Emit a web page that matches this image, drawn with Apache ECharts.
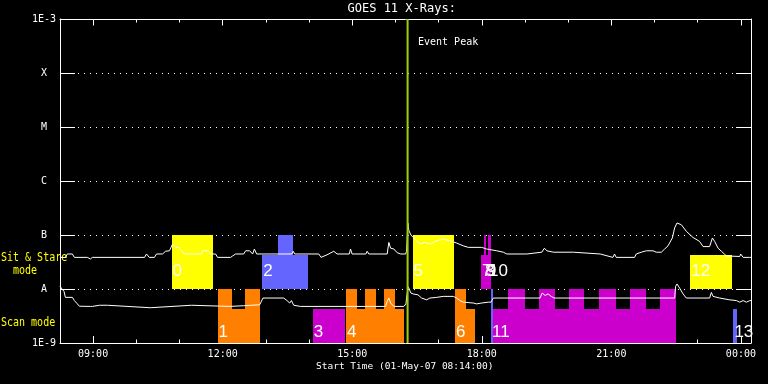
<!DOCTYPE html>
<html><head><meta charset="utf-8">
<script src="https://cdn.jsdelivr.net/npm/echarts@6/dist/echarts.min.js"></script>
<style>html,body{margin:0;padding:0;background:#000;}#c{width:768px;height:384px;}</style>
</head><body><div id="c"></div>
<script>
// ---- data ----
const titleText = 'GOES 11 X-Rays:';
const xAxisTitle = 'Start Time (01-May-07 08:14:00)';
const timeMin = 8 + 14/60, timeMax = 24 + 14/60;          // hours (08:14 -> 00:14)
const hourTicks = [9,10,11,12,13,14,15,16,17,18,19,20,21,22,23,24];
const labelHours = [9,12,15,18,21,24];
const hourLabels = ['09:00','12:00','15:00','18:00','21:00','00:00'];
const yTickLabels = ['1E-9','A','B','C','M','X','1E-3'];   // 1e-9 .. 1e-3
const eventPeakTime = 16.282;
const eventPeakText = 'Event Peak';

// upper channel (1-8 A) flux, [hour, W/m^2]
const longFlux = [
 [8.232,3.85e-8],[8.358,3.85e-8],[8.404,4.45e-8],[8.520,4.45e-8],[8.566,3.85e-8],[8.868,3.85e-8],[8.937,3.6e-8],[8.984,3.85e-8],
 [10.190,3.85e-8],[10.236,4.45e-8],[10.300,3.85e-8],[10.420,3.85e-8],[10.468,4.45e-8],[10.607,4.45e-8],[10.677,5.0e-8],[10.769,5.1e-8],
 [10.839,6.8e-8],[10.909,5.9e-8],[10.978,5.9e-8],[11.048,5.1e-8],[11.117,4.45e-8],[11.512,4.45e-8],[11.535,5.1e-8],[11.674,5.1e-8],
 [11.720,4.45e-8],[11.836,4.45e-8],[11.883,3.85e-8],[12.184,3.85e-8],[12.231,4.1e-8],[12.300,4.45e-8],[12.486,4.45e-8],[12.532,5.1e-8],
 [12.625,5.1e-8],[12.694,4.45e-8],[12.734,5.5e-8],[12.787,4.45e-8],[13.599,4.45e-8],[13.634,5.0e-8],[13.668,4.45e-8],[14.225,4.45e-8],
 [14.278,3.85e-8],[14.417,4.3e-8],[14.573,5.0e-8],[14.649,4.45e-8],[14.932,4.45e-8],[14.960,5.5e-8],[14.997,4.45e-8],[15.315,4.45e-8],
 [15.345,5.0e-8],[15.384,4.45e-8],[15.809,4.45e-8],[15.848,7.3e-8],[15.888,5.7e-8],[15.964,5.5e-8],[16.041,4.7e-8],[16.120,4.45e-8],
 [16.236,4.45e-8],[16.259,5.0e-8],[16.289,1.67e-7],[16.312,1.2e-7],[16.359,1.0e-7],[16.412,9.0e-8],[16.567,6.8e-8],[16.683,7.3e-8],
 [16.799,6.8e-8],[16.955,7.8e-8],[17.108,8.4e-8],[17.263,7.8e-8],[17.418,7.1e-8],[17.571,6.3e-8],[17.687,5.9e-8],[17.998,5.9e-8],
 [18.114,5.5e-8],[18.346,5.1e-8],[18.499,4.8e-8],[18.578,4.45e-8],[19.042,4.45e-8],[19.079,4.8e-8],[19.390,4.8e-8],[19.450,5.7e-8],
 [19.506,5.1e-8],[19.659,4.8e-8],[20.123,4.8e-8],[20.162,4.45e-8],[20.742,4.45e-8],[20.765,4.1e-8],[21.036,3.85e-8],[21.073,4.45e-8],
 [21.113,3.85e-8],[21.537,3.85e-8],[21.577,4.45e-8],[21.693,4.8e-8],[21.809,5.1e-8],[21.964,5.1e-8],[22.041,4.8e-8],[22.157,4.8e-8],
 [22.233,5.5e-8],[22.312,6.3e-8],[22.412,8.8e-8],[22.465,1.35e-7],[22.520,1.67e-7],[22.620,1.55e-7],[22.736,1.17e-7],[22.891,9.0e-8],
 [23.044,7.6e-8],[23.123,6.1e-8],[23.276,6.1e-8],[23.339,8.8e-8],[23.392,7.6e-8],[23.471,5.7e-8],[23.548,5.0e-8],[23.664,4.1e-8],
 [23.972,4.0e-8],[23.995,4.45e-8],[24.051,3.85e-8],[24.204,3.85e-8],[24.234,3.85e-8]
];

// lower channel (0.5-4 A) flux, [hour, W/m^2]
const shortFlux = [
 [8.232,1.12e-8],[8.265,1.06e-8],[8.327,9.0e-9],[8.358,7.0e-9],[8.520,7.0e-9],[8.566,6.1e-9],[8.636,5.3e-9],[8.682,4.8e-9],
 [8.937,4.76e-9],[8.961,5.0e-9],[8.984,4.76e-9],[9.146,5.0e-9],[9.169,4.76e-9],[9.332,5.0e-9],[9.355,4.76e-9],[10.322,4.5e-9],
 [10.352,4.76e-9],[11.280,5.0e-9],[11.303,4.76e-9],[12.161,4.76e-9],[12.486,4.9e-9],[12.857,5.1e-9],[12.933,6.8e-9],[13.413,6.8e-9],
 [13.490,6.1e-9],[13.552,5.5e-9],[13.592,6.1e-9],[13.645,5.0e-9],[13.801,4.76e-9],[15.772,4.76e-9],[15.809,5.9e-9],[15.848,6.8e-9],
 [15.888,5.5e-9],[15.964,4.76e-9],[16.196,4.76e-9],[16.243,5.3e-9],[16.273,8.4e-9],[16.296,1.1e-8],[16.319,1.0e-8],[16.359,8.4e-9],
 [16.412,8.1e-9],[16.521,7.8e-9],[16.607,6.8e-9],[16.723,6.3e-9],[16.799,6.8e-9],[16.955,7.0e-9],[17.108,7.3e-9],[17.340,7.3e-9],
 [17.418,6.8e-9],[17.495,6.1e-9],[17.571,5.7e-9],[17.803,5.5e-9],[17.880,5.3e-9],[17.996,5.5e-9],[18.149,5.7e-9],[18.212,5.7e-9],
 [18.267,6.8e-9],[19.350,6.8e-9],[19.397,8.4e-9],[19.467,7.6e-9],[19.536,8.1e-9],[19.606,7.3e-9],[19.675,6.8e-9],[22.465,6.8e-9],
 [22.488,1.12e-8],[22.520,1.24e-8],[22.581,1.04e-8],[22.660,8.1e-9],[22.736,6.8e-9],[23.276,6.8e-9],[23.315,8.65e-9],[23.355,7.3e-9],
 [23.508,6.8e-9],[23.740,6.3e-9],[23.896,6.1e-9],[23.972,5.7e-9],[24.051,6.1e-9],[24.128,5.7e-9],[24.204,6.1e-9],[24.234,6.1e-9]
];

// observation rows: 0 = Sit & Stare (floor 1e-8), 1 = Scan (floor 1e-9)
const rowFloor = [1e-8, 1e-9];
const boxColors = ['#ffff00', '#ff8000', '#6464ff', '#cc00cc'];
// [start hour, end hour, top flux, row, colour index]
const obsRects = [
 [10.816,11.783,1e-7,0,0],
 [11.883,12.207,1e-8,1,1],[12.207,12.509,4.2e-9,1,1],[12.509,12.857,1e-8,1,1],
 [12.919,13.274,4.2e-8,0,2],[13.274,13.638,1e-7,0,2],[13.638,13.986,4.2e-8,0,2],
 [14.086,14.828,4.2e-9,1,3],
 [14.858,15.113,1e-8,1,1],[15.113,15.292,4.2e-9,1,1],[15.292,15.547,1e-8,1,1],[15.547,15.733,4.2e-9,1,1],[15.733,15.988,1e-8,1,1],[15.988,16.196,4.2e-9,1,1],
 [16.398,17.349,1e-7,0,0],
 [17.379,17.634,1e-8,1,1],[17.634,17.843,4.2e-9,1,1],
 [17.983,18.214,4.2e-8,0,3],[18.053,18.099,1e-7,0,3],[18.099,18.146,4.2e-8,0,3],[18.146,18.207,1e-7,0,3],
 [18.214,18.267,1e-8,1,2],
 [18.267,18.601,4.2e-9,1,3],[18.601,19.002,1e-8,1,3],[19.002,19.327,4.2e-9,1,3],[19.327,19.698,1e-8,1,3],[19.698,20.022,4.2e-9,1,3],
 [20.022,20.377,1e-8,1,3],[20.377,20.725,4.2e-9,1,3],[20.725,21.112,1e-8,1,3],[21.112,21.437,4.2e-9,1,3],[21.437,21.808,1e-8,1,3],
 [21.808,22.133,4.2e-9,1,3],[22.133,22.504,1e-8,1,3],
 [22.829,23.803,4.2e-8,0,0],
 [23.826,23.919,4.2e-9,1,2]
];
// [start hour, row]
const obsLabelPos = [
 [10.816,0],[11.883,1],[12.919,0],[14.086,1],[14.858,1],[16.398,0],[17.379,1],
 [17.983,0],[18.053,0],[18.099,0],[18.146,0],[18.214,1],[22.829,0],[23.826,1]
];
const obsLabelText = ['0','1','2','3','4','5','6','7','8','9','10','11','12','13'];

// ---- chart ----
const chart = echarts.init(document.getElementById('c'), null, {renderer:'canvas'});
const MONO = '"DejaVu Sans Mono", monospace';
const white = '#ffffff';
const labelOffset = [17.3, 10.3];

function xAxisBase(pos, ticks, len, showLine, showLabel) {
  return {
    type:'value', position: pos, min: timeMin, max: timeMax,
    axisLine:{show: showLine, lineStyle:{color: white, width:1}},
    axisTick:{show:true, inside:true, length: len, customValues: ticks, lineStyle:{color: white, width:1}},
    axisLabel:{show: showLabel, customValues: labelHours, color: white, fontFamily: MONO, fontSize: 10, margin: 6,
      formatter: v => hourLabels[labelHours.indexOf(Math.round(v))] || ''},
    splitLine:{show:false}
  };
}
function yAxisBase(pos, showLabel, showSplit) {
  return {
    type:'log', logBase:10, position: pos, min:1e-9, max:1e-3, splitNumber:6,
    axisLine:{show:true, lineStyle:{color: white, width:1}},
    axisTick:{show:true, inside:true, length:15, lineStyle:{color: white, width:1}},
    axisLabel:{show: showLabel, color: white, fontFamily: MONO, fontSize: 10, margin: 16, align:'center',
      showMinLabel:true, showMaxLabel:true,
      formatter: v => yTickLabels[Math.round(Math.log10(v)) + 9] || ''},
    splitLine:{show: showSplit, lineStyle:{color: white, width:1, type:[1,5]}},
    minorTick:{show:false}
  };
}

const option = {
  backgroundColor:'#000000',
  animation:false,
  grid:{left:60, right:17, top:19, bottom:41, containLabel:false},
  xAxis:[
    xAxisBase('bottom', labelHours, 7, true, true),
    xAxisBase('bottom', hourTicks, 3.5, false, false),
    xAxisBase('top', labelHours, 6.5, true, false),
    xAxisBase('top', hourTicks, 3.5, false, false)
  ],
  yAxis:[ yAxisBase('left', true, true), yAxisBase('right', false, false) ],
  graphic:[
    {type:'text', x:401.7, y:3, style:{text:titleText, fill:white, font:'12px '+MONO, align:'center', verticalAlign:'top'}},
    {type:'text', x:418, y:37, style:{text:eventPeakText, fill:white, font:'10px '+MONO, align:'left', verticalAlign:'top'}},
    {type:'text', x:404.7, y:361.5, style:{text:xAxisTitle, fill:white, font:'9.5px '+MONO, align:'center', verticalAlign:'top'}},
    {type:'text', x:1, y:251.5, scaleY:1.25, style:{text:'Sit & Stare', fill:'#ffff00', font:'10px '+MONO, align:'left', verticalAlign:'top'}},
    {type:'text', x:1, y:264.5, scaleY:1.25, style:{text:'  mode', fill:'#ffff00', font:'10px '+MONO, align:'left', verticalAlign:'top'}},
    {type:'text', x:1, y:317, scaleY:1.25, style:{text:'Scan mode', fill:'#ffff00', font:'10px '+MONO, align:'left', verticalAlign:'top'}}
  ],
  series:[
    {
      type:'custom', name:'obs', xAxisIndex:0, yAxisIndex:0, z:2,
      data: obsRects,
      encode:{x:[0,1], y:[2]},
      renderItem:(params, api) => {
        const t0 = api.value(0), t1 = api.value(1), top = api.value(2), row = api.value(3), ci = api.value(4);
        const p0 = api.coord([t0, top]);
        const p1 = api.coord([t1, rowFloor[row]]);
        const x0 = Math.round(p0[0]), x1 = Math.max(Math.round(p1[0]), x0 + 1);
        const y0 = Math.round(p0[1]), y1 = Math.round(p1[1]);
        return {type:'rect', shape:{x:x0, y:y0, width:x1-x0, height:y1-y0},
                style:{fill: boxColors[ci]}};
      }
    },
    {
      type:'line', name:'long', data: longFlux, showSymbol:false, symbol:'none', z:3,
      lineStyle:{color: white, width:1}, itemStyle:{color: white}
    },
    {
      type:'line', name:'short', data: shortFlux, showSymbol:false, symbol:'none', z:3,
      lineStyle:{color: white, width:1}, itemStyle:{color: white}
    },
    {
      type:'custom', name:'labels', z:4,
      data: obsLabelPos,
      encode:{x:[0]},
      renderItem:(params, api) => {
        const t = api.value(0), row = api.value(1);
        const p = api.coord([t, rowFloor[row]]);
        return {type:'text', x:p[0]+1, y:p[1]-labelOffset[row],
                style:{text: obsLabelText[params.dataIndex], fill: white, font:'17px "Liberation Sans"',
                       align:'left', verticalAlign:'middle'}};
      }
    },
    {
      type:'line', name:'peak', data:[[eventPeakTime,1e-9],[eventPeakTime,1e-3]], showSymbol:false, symbol:'none', z:5,
      lineStyle:{color:'#a0d000', width:2}, itemStyle:{color:'#a0d000'}
    }
  ]
};
chart.setOption(option);
</script></body></html>
